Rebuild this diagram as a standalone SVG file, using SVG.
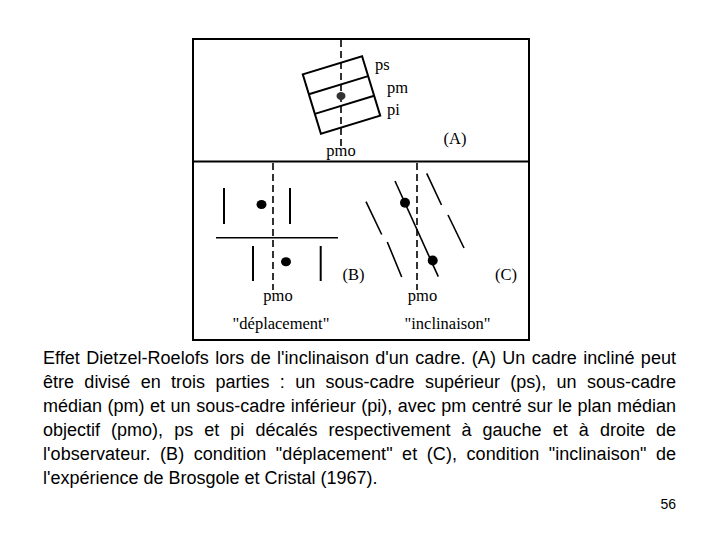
<svg xmlns="http://www.w3.org/2000/svg" width="720" height="540" viewBox="0 0 720 540">
  <style>
    .frame { fill: none; stroke: #000; stroke-width: 2; }
    .ln { fill: none; stroke: #000; stroke-width: 2; }
    .thin { fill: none; stroke: #000; stroke-width: 1.6; }
    .dash { fill: none; stroke: #000; stroke-width: 1.6; stroke-dasharray: 7 4; }
    .lbl { font-family: "Liberation Serif", "Times New Roman", serif; font-size: 16.5px; fill: #000; }
    .cap { font-family: "Liberation Sans", Arial, sans-serif; font-size: 18px; fill: #000; }
    .dot { fill: #000; }
  </style>
  <rect width="720" height="540" fill="#fff"/>

  <g id="figure-frame">
    <rect class="frame" x="193" y="39" width="336" height="301"/>
    <line class="frame" x1="193" y1="161.5" x2="529" y2="161.5"/>
  </g>

  <g id="panel-a">
    <line class="dash" x1="341" y1="40" x2="341" y2="146"/>
    <g transform="translate(341.5,95) rotate(-17)">
      <rect class="ln" x="-31" y="-31" width="62" height="62"/>
      <line class="ln" x1="-31" y1="-10.3" x2="31" y2="-10.3"/>
      <line class="ln" x1="-31" y1="10.3" x2="31" y2="10.3"/>
    </g>
    <ellipse cx="341" cy="96" rx="4.5" ry="4" fill="#333"/>
    <text class="lbl" x="375" y="70">ps</text>
    <text class="lbl" x="387" y="93">pm</text>
    <text class="lbl" x="387" y="115">pi</text>
    <text class="lbl" x="341" y="156" text-anchor="middle">pmo</text>
    <text class="lbl" x="455" y="144" text-anchor="middle">(A)</text>
  </g>

  <g id="panel-b">
    <line class="dash" x1="273" y1="163" x2="273" y2="290"/>
    <line class="ln" x1="224" y1="188" x2="224" y2="224"/>
    <line class="ln" x1="290" y1="188" x2="290" y2="224"/>
    <ellipse class="dot" cx="261.5" cy="204.5" rx="5" ry="4.5"/>
    <line class="thin" x1="216" y1="237.7" x2="338" y2="237.7"/>
    <line class="ln" x1="253" y1="246" x2="253" y2="281"/>
    <line class="ln" x1="320.7" y1="246" x2="320.7" y2="281"/>
    <ellipse class="dot" cx="286" cy="261.7" rx="5" ry="4.5"/>
    <text class="lbl" x="353.5" y="280" text-anchor="middle">(B)</text>
    <text class="lbl" x="278" y="301" text-anchor="middle">pmo</text>
    <text class="lbl" x="281" y="329" text-anchor="middle">"déplacement"</text>
  </g>

  <g id="panel-c">
    <line class="dash" x1="417" y1="163" x2="417" y2="290"/>
    <line class="thin" x1="395" y1="181" x2="438.3" y2="276.7"/>
    <line class="thin" x1="366" y1="201.7" x2="381.7" y2="234.5"/>
    <line class="thin" x1="387.3" y1="242" x2="401.7" y2="277"/>
    <line class="thin" x1="426.7" y1="173.3" x2="441.5" y2="205"/>
    <line class="thin" x1="448" y1="215" x2="464" y2="248"/>
    <circle class="dot" cx="405" cy="202.7" r="5"/>
    <circle class="dot" cx="432.7" cy="260.5" r="5"/>
    <text class="lbl" x="506" y="280" text-anchor="middle">(C)</text>
    <text class="lbl" x="422.5" y="301" text-anchor="middle">pmo</text>
    <text class="lbl" x="447.5" y="329" text-anchor="middle">"inclinaison"</text>
  </g>

  <g id="caption">
    <text class="cap" x="43" y="364" word-spacing="1.3" textLength="633" lengthAdjust="spacing">Effet Dietzel-Roelofs lors de l'inclinaison d'un cadre. (A) Un cadre incliné peut</text>
    <text class="cap" x="43" y="388" word-spacing="5.35" textLength="633" lengthAdjust="spacing">être divisé en trois parties : un sous-cadre supérieur (ps), un sous-cadre</text>
    <text class="cap" x="43" y="412" word-spacing="0.5" textLength="633" lengthAdjust="spacing">médian (pm) et un sous-cadre inférieur (pi), avec pm centré sur le plan médian</text>
    <text class="cap" x="43" y="436" word-spacing="6.1" textLength="633" lengthAdjust="spacing">objectif (pmo), ps et pi décalés respectivement à gauche et à droite de</text>
    <text class="cap" x="43" y="460" word-spacing="4.4" textLength="633" lengthAdjust="spacing">l'observateur. (B) condition "déplacement" et (C), condition "inclinaison" de</text>
    <text class="cap" x="43" y="484">l'expérience de Brosgole et Cristal (1967).</text>
    <text class="cap" x="676" y="509" text-anchor="end" style="font-size:14px">56</text>
  </g>
</svg>
